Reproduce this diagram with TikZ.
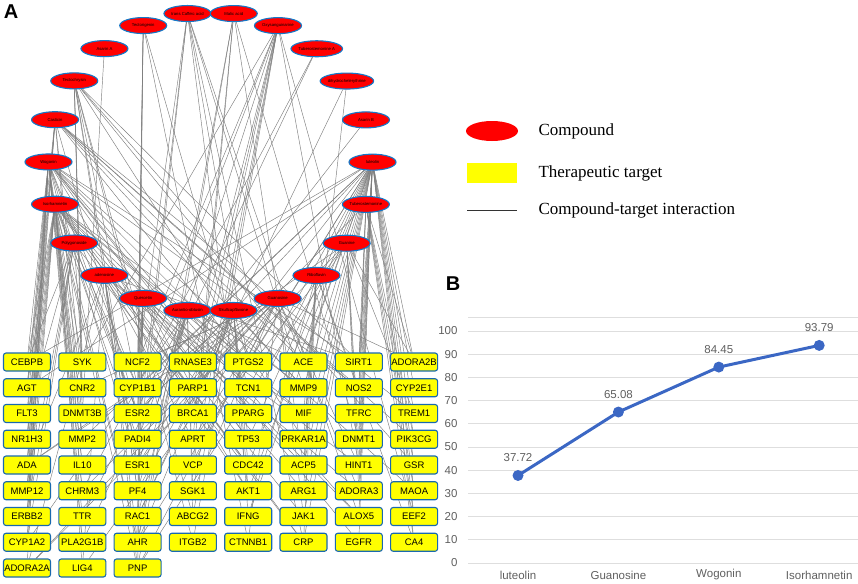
\documentclass[tikz,border=0pt]{standalone}
\usepackage{fontspec}
\setmainfont{Liberation Sans}
\newfontfamily\legendfont{Liberation Serif}
\usetikzlibrary{shapes.geometric, backgrounds, calc}

\definecolor{cpdred}{RGB}{255,0,0}
\definecolor{cpdedge}{RGB}{20,120,200}
\definecolor{tgtyellow}{RGB}{255,255,0}
\definecolor{tgtedge}{RGB}{25,105,175}
\definecolor{linkgray}{RGB}{125,125,125}
\definecolor{gridgray}{RGB}{222,222,222}
\definecolor{axisgray}{RGB}{95,95,95}
\definecolor{trendblue}{RGB}{59,103,196}

\tikzset{
  compound/.style={ellipse, draw=cpdedge, line width=1.1pt, fill=cpdred,
    minimum width=47pt, minimum height=16pt, inner sep=0pt,
    font=\fontsize{4.2}{5}\selectfont},
  target/.style={rectangle, rounded corners=2.5pt, draw=tgtedge, line width=1.1pt,
    fill=tgtyellow, minimum width=47pt, minimum height=18pt, inner sep=0pt,
    font=\fontsize{9.5}{10}\selectfont},
  link/.style={draw=linkgray, line width=0.45pt},
  panel/.style={font=\bfseries\fontsize{20}{20}\selectfont},
  legendtext/.style={anchor=west, font=\legendfont\fontsize{17}{18}\selectfont},
  axislab/.style={text=axisgray, font=\fontsize{11.5}{12}\selectfont},
  grid line/.style={draw=gridgray, line width=0.8pt},
  trend/.style={draw=trendblue, line width=3pt, line join=round},
}

\begin{document}
\begin{tikzpicture}[x=1pt, y=-1pt]
        \useasboundingbox (0,0) rectangle (858,583);

        % Panel A: compounds on an ellipse
        \foreach \nm/\lab [count=\k] in {Cfa/trans Caffeic acid, Tec/Tectorigenin, Asa/Asarin A,
            Tch/Tectochrysin, Cas/Casticin, Wog/Wogonin, Iso/Isorhamnetin, Pol/Polygonoside,
            Ade/adenosine, Que/Quercetin, Aur/Aurantio-obtusin, Sku/Skullcapflavone,
            Gua/Guanosine, Rib/Riboflavin, Gun/Guanine, Tub/Tuberostemonine, Lut/luteolin,
            Asb/Asarin B, Dhc/dihydrochelerythrine, Tba/Tuberostemonine A,
            Oxy/Oxysanguinarine, Mal/Malic acid} {
            \pgfmathsetmacro\ang{98.18+16.36*(\k-1)}
            \node[compound] (\nm) at ({210.5+162*cos(\ang)},{162-150*sin(\ang)}) {\lab};
        }

        % Targets
        \foreach \row [count=\j] in {
            {CEBPB,SYK,NCF2,RNASE3,PTGS2,ACE,SIRT1,ADORA2B},
            {AGT,CNR2,CYP1B1,PARP1,TCN1,MMP9,NOS2,CYP2E1},
            {FLT3,DNMT3B,ESR2,BRCA1,PPARG,MIF,TFRC,TREM1},
            {NR1H3,MMP2,PADI4,APRT,TP53,PRKAR1A,DNMT1,PIK3CG},
            {ADA,IL10,ESR1,VCP,CDC42,ACP5,HINT1,GSR},
            {MMP12,CHRM3,PF4,SGK1,AKT1,ARG1,ADORA3,MAOA},
            {ERBB2,TTR,RAC1,ABCG2,IFNG,JAK1,ALOX5,EEF2},
            {CYP1A2,PLA2G1B,AHR,ITGB2,CTNNB1,CRP,EGFR,CA4},
            {ADORA2A,LIG4,PNP}} {
            \foreach \g [count=\i] in \row {
                \node[target] (\g) at ({27+55.3*(\i-1)},{362+25.75*(\j-1)}) {\g};
            }
        }

        % Compound-target links
        \begin{pgfonlayer}{background}
        \foreach \c/\ts in {
            Wog/{CEBPB,AGT,FLT3,NR1H3,ADA,MMP12,ERBB2,CYP1A2,ADORA2A,CNR2,DNMT3B,MMP2,IL10,CHRM3,
                 TTR,PLA2G1B,CYP1B1,ESR2,PTGS2,PPARG,TP53,AKT1,SIRT1,NOS2,MAOA,EGFR,ALOX5,AHR,ESR1},
            Iso/{CEBPB,AGT,FLT3,NR1H3,ADA,MMP12,ERBB2,CYP1A2,LIG4,SYK,MMP2,IL10,CHRM3,PLA2G1B,
                 CYP1B1,ESR2,PADI4,PTGS2,TCN1,MMP9,MIF,AKT1,CDC42,ARG1,CRP,JAK1,ALOX5,AHR,PNP},
            Cas/{AGT,NR1H3,ADA,MMP12,ERBB2,CNR2,MMP2,ESR2,PTGS2,ACE,MMP9,NOS2,TREM1,PIK3CG},
            Tch/{SYK,CNR2,DNMT3B,CYP1B1,ESR1,PF4,ABCG2,ITGB2,ACE,SIRT1,PRKAR1A,GSR},
            Tec/{NCF2,CYP1B1,ESR2,RAC1,TCN1,CTNNB1},
            Asa/{DNMT3B},
            Cfa/{PTGS2,MMP9,PADI4,ESR1,AKT1,CRP,ALOX5,NCF2},
            Mal/{VCP,APRT,ACP5,DNMT1,AHR,PNP},
            Oxy/{SYK,NCF2,RNASE3,CYP1B1,PARP1,BRCA1,ESR1,VCP,SGK1,ABCG2,HINT1,EEF2},
            Tba/{CHRM3,PLA2G1B},
            Dhc/{ACP5,RAC1},
            Asb/{ESR2},
            Lut/{PTGS2,ACE,SIRT1,ADORA2B,TCN1,MMP9,NOS2,CYP2E1,PPARG,MIF,TFRC,TREM1,TP53,PRKAR1A,
                 DNMT1,PIK3CG,CDC42,ACP5,HINT1,GSR,AKT1,ARG1,ADORA3,MAOA,IFNG,JAK1,ALOX5,EEF2,
                 CA4,EGFR,CRP,ESR1,ESR2,CYP1B1,MMP2,AHR,CEBPB,AGT},
            Tub/{SIRT1,NOS2,TFRC,PIK3CG,GSR,MAOA,CHRM3,EEF2,CA4,ADORA2B},
            Gun/{PNP,HINT1,ADORA3,ADA,APRT,DNMT1,TREM1,ADORA2B,ADORA2A},
            Rib/{MIF,PRKAR1A,ACP5,ARG1,IFNG,CRP,NOS2,CA4},
            Gua/{PNP,ADA,APRT,HINT1,ADORA3,ADORA2A,ADORA2B,RNASE3,PARP1,PADI4,VCP,SGK1,NCF2,
                 CTNNB1,JAK1,LIG4,CNR2},
            Sku/{PTGS2,ESR1,ESR2,AKT1,CDC42,TP53,BRCA1,PF4,RAC1,AHR,ITGB2,IFNG,MMP9},
            Aur/{CYP1A2,AHR,ESR1,PTGS2,PF4,RAC1,SGK1,ABCG2,TTR,PADI4,ACE,TCN1},
            Que/{NCF2,CYP1B1,ESR2,PADI4,RAC1,AHR,PNP,BRCA1,PARP1,MIF,TP53,ACP5},
            Ade/{ADA,PNP,AHR,APRT,ADORA2A,ADORA3,HINT1,LIG4,PF4,ESR1,CDC42,SIRT1},
            Pol/{CEBPB,FLT3,MMP12,CYP1A2,SYK,ERBB2,ESR2,CRP}} {
            \foreach \t in \ts {\draw[link] (\c) -- (\t);}
        }
        \end{pgfonlayer}

        \node[panel] (labA) at (11,12) {A};

        % Legend
        \node[ellipse, fill=cpdred, minimum width=52pt, minimum height=20pt] (keyCpd) at (492,131) {};
        \node[legendtext] (txtCpd) at (535,131) {Compound};
        \node[fill=tgtyellow, minimum width=50pt, minimum height=20pt] (keyTgt) at (492,173) {};
        \node[legendtext] (txtTgt) at (535,173) {Therapeutic target};
        \coordinate (keyL) at (467,210);
        \coordinate (keyR) at (517,210);
        \draw[line width=0.8pt, draw=black!80] (keyL) -- (keyR);
        \node[legendtext] (txtLink) at (535,210) {Compound-target interaction};

        % Panel B: line chart
        \node[panel] (labB) at (453,284) {B};
        \draw[grid line] (468,317) -- (858,317);
        \foreach \v in {0,10,...,100} {
            \draw[grid line] (468,{563-2.32*\v}) -- (858,{563-2.32*\v});
            \node[axislab, anchor=east] at (461,{563-2.32*\v}) {\v};
        }
        \foreach \nm/\val [count=\i] in {luteolin/37.72, Guanosine/65.08, Wogonin/84.45, Isorhamnetin/93.79} {
            \coordinate (pt\i) at ({518+100.4*(\i-1)},{563-2.32*\val});
            \node[axislab] at ({518+100.4*(\i-1)},575) {\nm};
            \node[axislab, above=10pt] at (pt\i) {\val};
        }
        \draw[trend] (pt1) -- (pt2) -- (pt3) -- (pt4);
        \foreach \i in {1,...,4} {\fill[trendblue] (pt\i) circle (5.5pt);}
\end{tikzpicture}
\end{document}
